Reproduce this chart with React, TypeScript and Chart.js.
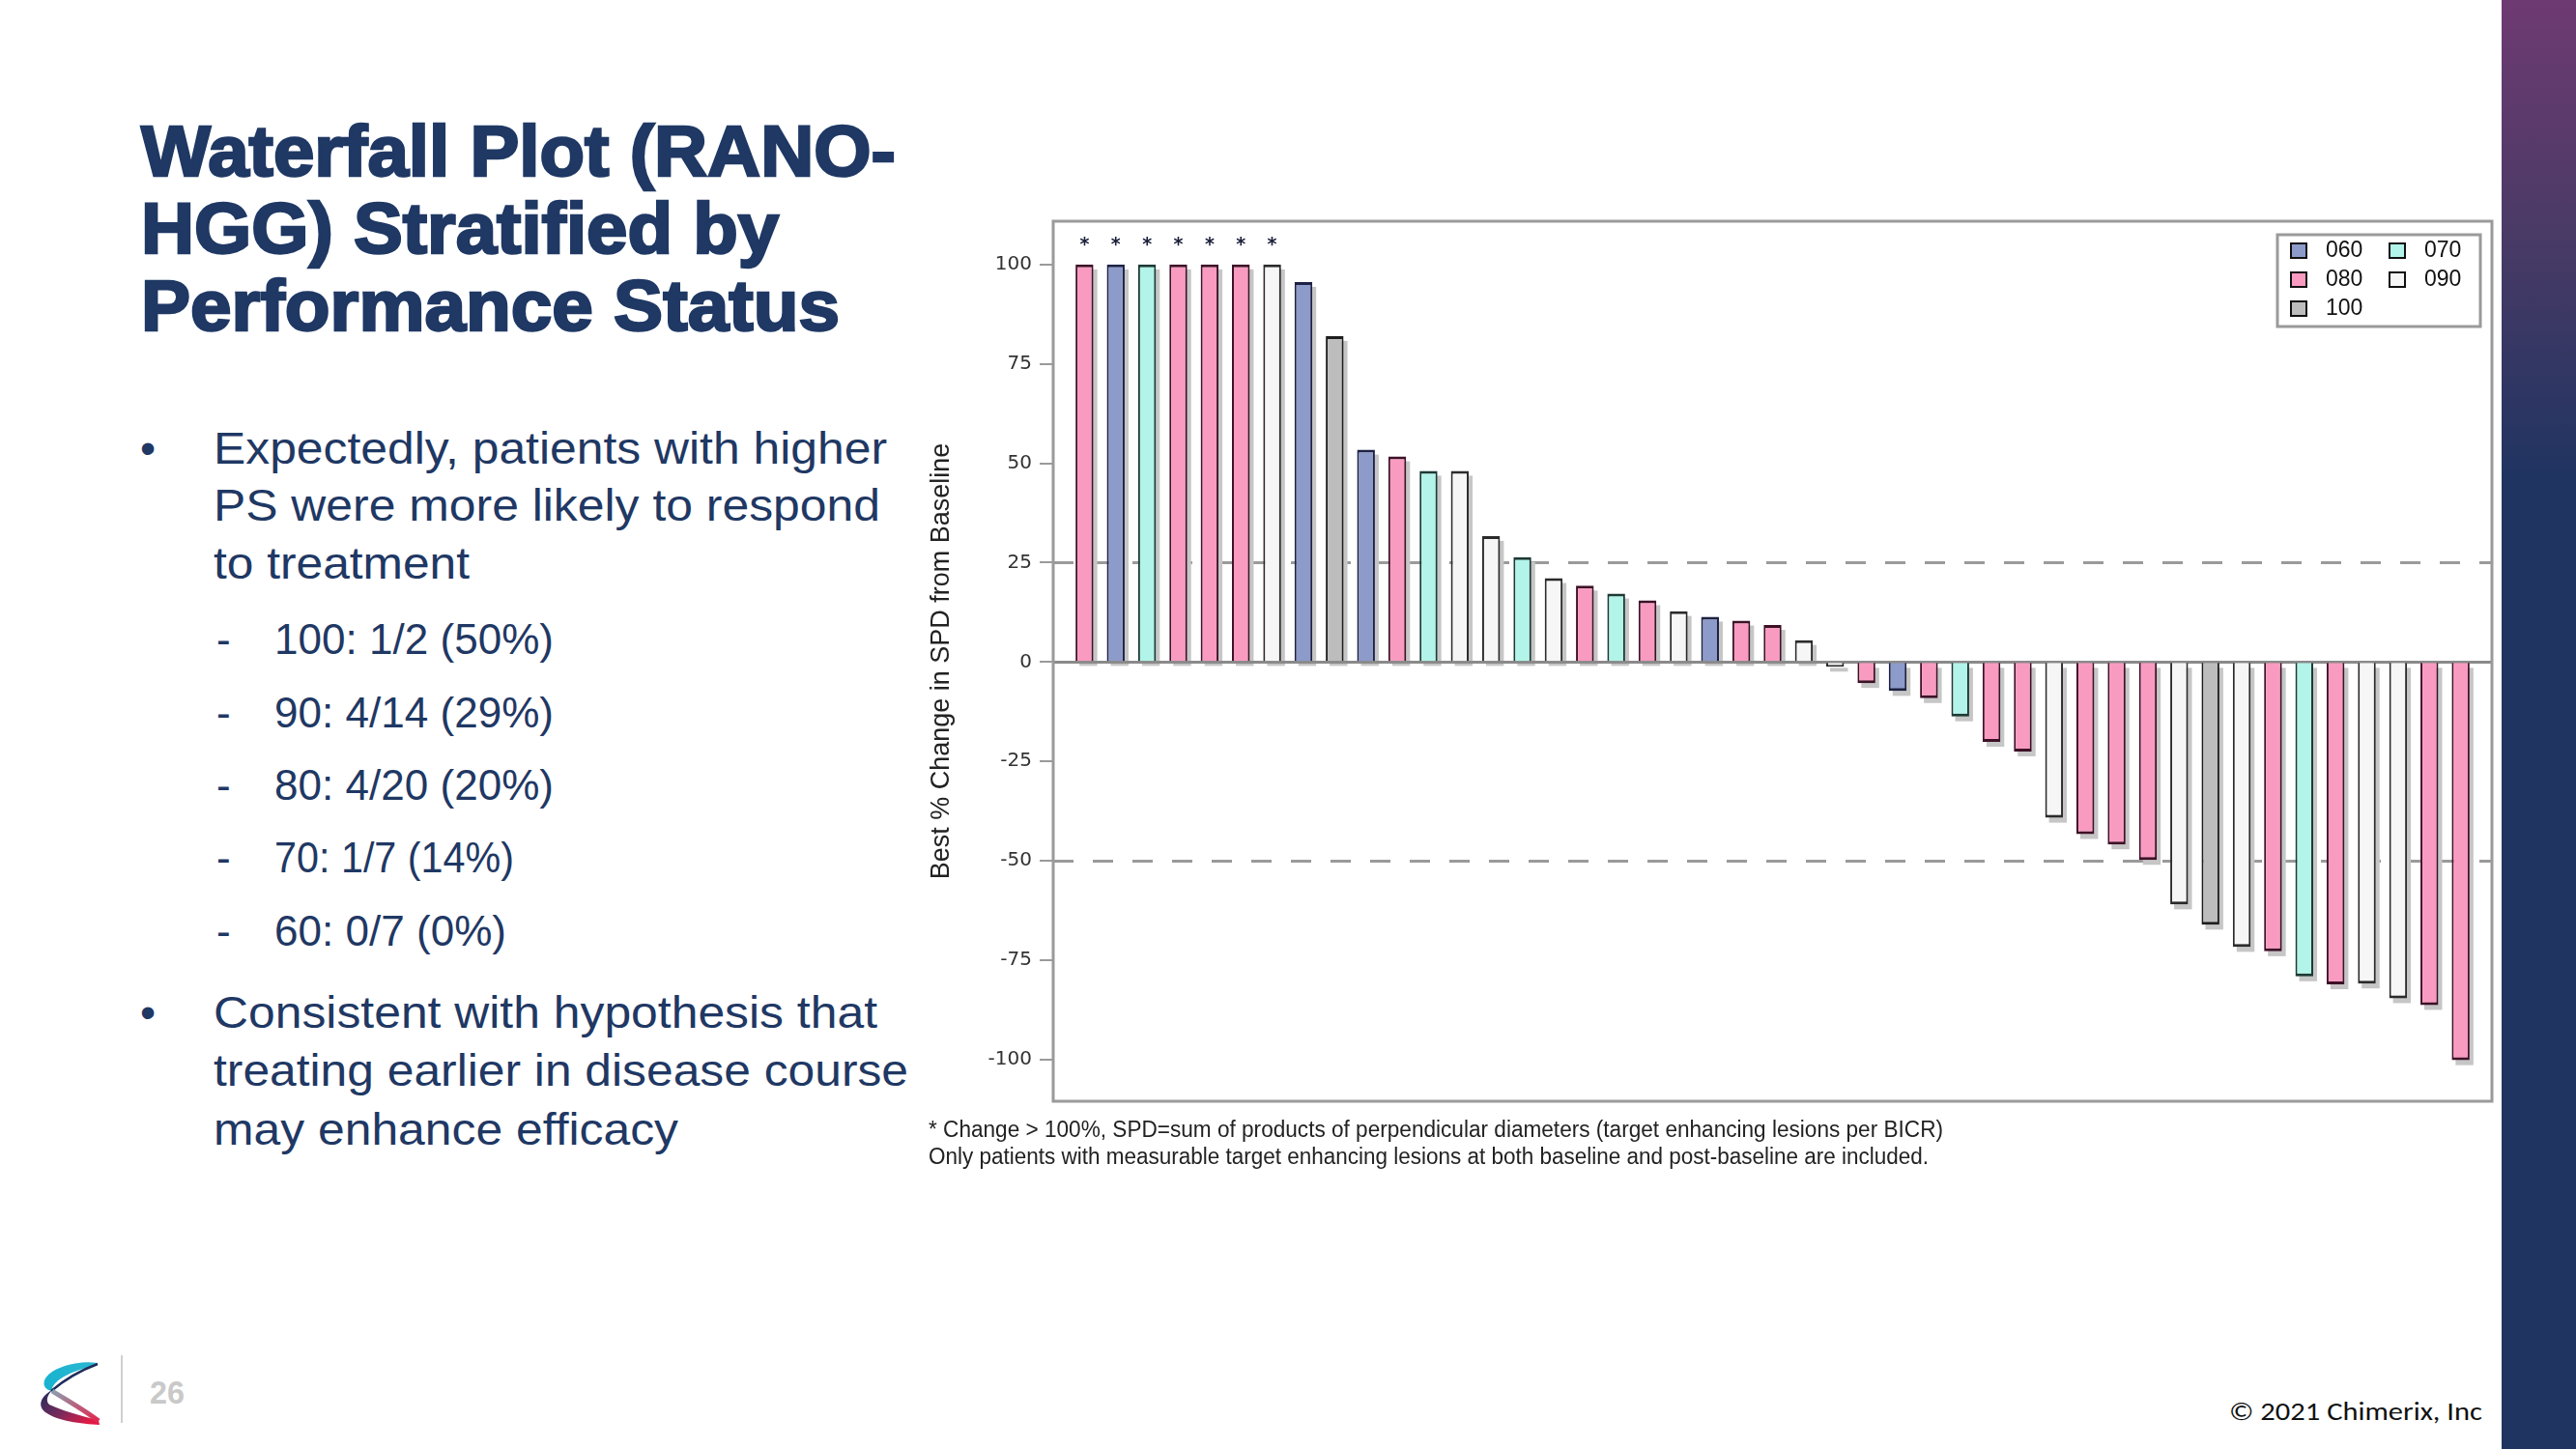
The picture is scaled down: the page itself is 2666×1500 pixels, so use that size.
import React, { useEffect, useLayoutEffect, useRef } from 'react';
import { Chart, registerables } from 'chart.js';

Chart.register(...registerables);

// ---------------- data ----------------
const psGroups = ['060', '070', '080', '090', '100'];
const psFill = ['#8D9BCA', '#B2F4E9', '#F99BC0', '#F6F6F6', '#BDBDBD'];
const psBorder = ['#1d2244', '#1c3a34', '#3e1127', '#2b2b2b', '#1e1e1e'];

const patientPS = [
  '080', '060', '070', '080', '080', '080', '090', '060', '100', '060',
  '080', '070', '090', '090', '070', '090', '080', '070', '080', '090',
  '060', '080', '080', '090', '090', '080', '060', '080', '070', '080',
  '080', '090', '080', '080', '080', '090', '100', '090', '080', '070',
  '080', '090', '090', '080', '080',
];

const bestPctChange = [
  100, 100, 100, 100, 100, 100, 100, 95.6, 82, 53.4,
  51.7, 48.1, 48.1, 31.7, 26.4, 21.1, 19.2, 17.2, 15.5, 12.8,
  11.4, 10.4, 9.3, 5.5, -1.2, -5.3, -7.3, -9.1, -13.7, -20.1,
  -22.5, -39.2, -43.3, -45.9, -49.8, -61.0, -66.1, -71.7, -72.8, -79.1,
  -81.1, -80.9, -84.6, -86.3, -100.2,
];

// patients (1-based order) whose change exceeds 100% (marked with *)
const over100Patients = [1, 2, 3, 4, 5, 6, 7];
const referenceLines = [25, -50];
const yTicks = [100, 75, 50, 25, 0, -25, -50, -75, -100];
const yTitle = 'Best % Change in SPD from Baseline';

const titleLines = ['Waterfall Plot (RANO-', 'HGG) Stratified by', 'Performance Status'];
const bullet1Lines = ['Expectedly, patients with higher', 'PS were more likely to respond', 'to treatment'];
const subItems = ['100: 1/2 (50%)', '90: 4/14 (29%)', '80: 4/20 (20%)', '70: 1/7 (14%)', '60: 0/7 (0%)'];
const bullet2Lines = ['Consistent with hypothesis that', 'treating earlier in disease course', 'may enhance efficacy'];
const footnotes = [
  '* Change > 100%, SPD=sum of products of perpendicular diameters (target enhancing lesions per BICR)',
  'Only patients with measurable target enhancing lesions at both baseline and post-baseline are included.',
];

const NAVY = '#1F3864';

// ---------------- chart plugin ----------------
const decorPlugin = {
  id: 'waterfallDecor',
  beforeDatasetsDraw(chart: any) {
    const { ctx, chartArea: a, scales } = chart;
    const y = scales.y;
    ctx.save();
    // dashed reference lines
    ctx.strokeStyle = '#9a9a9a';
    ctx.lineWidth = 3;
    ctx.setLineDash([21, 20]);
    referenceLines.forEach((v) => {
      const py = Math.round(y.getPixelForValue(v)) + 0.5;
      ctx.beginPath();
      ctx.moveTo(a.left, py);
      ctx.lineTo(a.right, py);
      ctx.stroke();
    });
    ctx.setLineDash([]);
    // bar shadows
    const meta = chart.getDatasetMeta(0);
    ctx.fillStyle = '#c6c6c6';
    meta.data.forEach((bar: any) => {
      const p = bar.getProps(['x', 'y', 'base', 'width'], true);
      const top = Math.min(p.y, p.base);
      const h = Math.abs(p.base - p.y);
      ctx.fillRect(p.x - p.width / 2 + 4, top + 5, p.width, h);
    });
    // zero line
    const z = Math.round(y.getPixelForValue(0)) + 0.5;
    ctx.strokeStyle = '#8a8a8a';
    ctx.lineWidth = 3;
    ctx.beginPath();
    ctx.moveTo(a.left, z);
    ctx.lineTo(a.right, z);
    ctx.stroke();
    ctx.restore();
  },
  afterDatasetsDraw(chart: any) {
    const { ctx } = chart;
    const meta = chart.getDatasetMeta(0);
    ctx.save();
    ctx.fillStyle = '#1a1f3a';
    ctx.font = 'bold 19px "DejaVu Sans"';
    ctx.textAlign = 'center';
    ctx.textBaseline = 'middle';
    over100Patients.forEach((n) => {
      const bar = meta.data[n - 1];
      if (!bar) return;
      ctx.fillText('*', bar.x, bar.y - 20);
    });
    ctx.restore();
  },
  afterDraw(chart: any) {
    const { ctx, chartArea: a } = chart;
    ctx.save();
    // plot frame
    ctx.strokeStyle = '#9a9a9a';
    ctx.lineWidth = 3;
    ctx.strokeRect(a.left, a.top, a.right - a.left, a.bottom - a.top);
    // legend box
    const bw = 210;
    const bh = 95;
    const bx = a.right - 12 - bw;
    const by = a.top + 14;
    ctx.fillStyle = '#ffffff';
    ctx.fillRect(bx, by, bw, bh);
    ctx.strokeStyle = '#9a9a9a';
    ctx.lineWidth = 3;
    ctx.strokeRect(bx, by, bw, bh);
    ctx.font = '23px "Liberation Sans"';
    ctx.textBaseline = 'middle';
    ctx.textAlign = 'left';
    psGroups.forEach((g, i) => {
      const col = i % 2;
      const row = Math.floor(i / 2);
      const sx = bx + 14 + col * 102;
      const sy = by + 9 + row * 30;
      ctx.fillStyle = psFill[i];
      ctx.fillRect(sx, sy, 16, 15);
      ctx.strokeStyle = '#111';
      ctx.lineWidth = 2;
      ctx.strokeRect(sx, sy, 16, 15);
      ctx.fillStyle = '#111';
      ctx.fillText(g, sx + 36, sy + 8);
    });
    ctx.restore();
  },
};

// ---------------- text helper ----------------
function FitLine(props: {
  text: string;
  left: number;
  baseline: number;
  size: number;
  width?: number;
  weight?: number;
  color?: string;
  family?: string;
  stroke?: string;
}) {
  const { text, left, baseline, size, width, weight = 400, color = NAVY, family = '"Liberation Sans", Arial, sans-serif', stroke } = props;
  const ref = useRef<HTMLDivElement>(null);
  useLayoutEffect(() => {
    const el = ref.current;
    if (!el) return;
    el.style.transform = 'none';
    const w = el.getBoundingClientRect().width;
    if (width && w > 0) el.style.transform = `scaleX(${width / w})`;
  }, [text, width]);
  return (
    <div
      ref={ref}
      style={{
        position: 'absolute',
        left,
        top: baseline - 0.8465 * size,
        fontSize: size,
        lineHeight: `${size}px`,
        fontFamily: family,
        fontWeight: weight,
        color,
        whiteSpace: 'nowrap',
        transformOrigin: 'left top',
        WebkitTextStroke: stroke,
      }}
    >
      {text}
    </div>
  );
}

function Logo() {
  return (
    <svg style={{ position: 'absolute', left: 38, top: 1404 }} width={72} height={76} viewBox="0 0 72 76">
      <defs>
        <linearGradient id="lgTop" x1="0" y1="0" x2="1" y2="0">
          <stop offset="0" stopColor="#19b3cf" />
          <stop offset="1" stopColor="#2bb8d3" />
        </linearGradient>
        <linearGradient id="lgBot" x1="0" y1="0" x2="1" y2="0.6">
          <stop offset="0" stopColor="#1f2d5c" />
          <stop offset="0.55" stopColor="#7a2a5c" />
          <stop offset="1" stopColor="#e01a45" />
        </linearGradient>
        <linearGradient id="lgDiag" x1="0" y1="0" x2="1" y2="1">
          <stop offset="0" stopColor="#8aa0b0" />
          <stop offset="1" stopColor="#e3254d" />
        </linearGradient>
      </defs>
      <path d="M63,7 C44,4 14,11 8,25 C6,31 10,35 16,36 C14,30 26,17 63,9 Z" fill="url(#lgTop)" />
      <path d="M63,8 Q36,18 15,36" stroke="#1f2d5c" strokeWidth={2.5} fill="none" />
      <path d="M16,35 C3,42 1,52 9,58 C21,67 46,70 65,71 L64,66 C46,62 26,56 13,50 C9,46 11,40 16,35 Z" fill="url(#lgBot)" />
      <path d="M16,36 C32,46 50,56 64,67" stroke="url(#lgDiag)" strokeWidth={5} fill="none" />
    </svg>
  );
}

export default function App() {
  const canvasRef = useRef<HTMLCanvasElement>(null);

  useEffect(() => {
    const canvas = canvasRef.current;
    if (!canvas) return;
    const groupIdx = patientPS.map((g) => psGroups.indexOf(g));
    const chart = new Chart(canvas, {
      type: 'bar',
      data: {
        datasets: [
          {
            data: bestPctChange.map((v, i) => ({ x: i + 1, y: v })),
            backgroundColor: groupIdx.map((k) => psFill[k]),
            borderColor: groupIdx.map((k) => psBorder[k]),
            borderWidth: { top: 3, bottom: 3, left: 2, right: 2 },
            barPercentage: 0.57,
            categoryPercentage: 1,
          } as any,
        ],
      },
      options: {
        animation: false,
        responsive: false,
        layout: { padding: { left: 0, top: 29, right: 21, bottom: 20 } },
        plugins: { legend: { display: false }, tooltip: { enabled: false } },
        scales: {
          x: {
            type: 'linear',
            min: 0,
            max: bestPctChange.length + 1,
            offset: false,
            grid: { offset: false },
            display: false,
          },
          y: {
            min: -110.5,
            max: 110.9,
            afterFit: (s: any) => {
              s.width = 150;
            },
            afterBuildTicks: (s: any) => {
              s.ticks = yTicks.map((v) => ({ value: v }));
            },
            grid: { drawOnChartArea: false, drawTicks: true, tickLength: 14, color: '#9a9a9a', lineWidth: 2 },
            border: { display: false },
            ticks: { padding: 8, color: '#333', font: { family: 'DejaVu Sans', size: 20 } },
            title: {
              display: true,
              text: yTitle,
              color: '#222',
              font: { family: 'Liberation Sans', size: 27 },
              padding: { top: 18, bottom: 0 },
            },
          },
        },
      } as any,
      plugins: [decorPlugin],
    });
    return () => chart.destroy();
  }, []);

  const titleWidths = [781, 660, 723];
  const b1Widths = [697, 690, 265];
  const b2Widths = [687, 719, 481];
  const subWidths = [289, 289, 289, 248, 240];
  const b1Base = [480, 539, 599];
  const subBase = [677, 753, 828, 903, 979];
  const b2Base = [1064, 1124, 1185];

  return (
    <div style={{ position: 'absolute', left: 0, top: 0, width: 2666, height: 1500, background: '#fff', overflow: 'hidden' }}>
      {/* right band */}
      <div
        style={{
          position: 'absolute',
          left: 2589,
          top: 0,
          width: 77,
          height: 1500,
          background: 'linear-gradient(to bottom, #6e3a72 0px, #4a3a66 240px, #1f3461 500px, #1f3461 1500px)',
        }}
      />
      {/* title */}
      {titleLines.map((t, i) => (
        <FitLine key={'t' + i} text={t} left={146} baseline={[183, 263, 343][i]} size={74} weight={700} width={titleWidths[i]} stroke={`2.5px ${NAVY}`} />
      ))}
      {/* bullet 1 */}
      <FitLine text="•" left={145} baseline={480} size={46} />
      {bullet1Lines.map((t, i) => (
        <FitLine key={'b1' + i} text={t} left={221} baseline={b1Base[i]} size={46} width={b1Widths[i]} />
      ))}
      {subItems.map((t, i) => (
        <React.Fragment key={'s' + i}>
          <FitLine text="-" left={224} baseline={subBase[i]} size={44} />
          <FitLine text={t} left={284} baseline={subBase[i]} size={44} width={subWidths[i]} />
        </React.Fragment>
      ))}
      <FitLine text="•" left={145} baseline={1064} size={46} />
      {bullet2Lines.map((t, i) => (
        <FitLine key={'b2' + i} text={t} left={221} baseline={b2Base[i]} size={46} width={b2Widths[i]} />
      ))}

      {/* chart */}
      <canvas
        ref={canvasRef}
        width={1660}
        height={960}
        style={{ position: 'absolute', left: 940, top: 200, width: 1660, height: 960 }}
      />

      {/* footnotes */}
      {footnotes.map((t, i) => (
        <FitLine key={'f' + i} text={t} left={961} baseline={[1177, 1205][i]} size={23} width={[1050, 1035][i]} color="#222" />
      ))}

      {/* footer */}
      <Logo />
      <div style={{ position: 'absolute', left: 125, top: 1403, width: 2, height: 70, background: '#cfcfcf' }} />
      <FitLine text="26" left={155} baseline={1453} size={33} weight={700} width={36} color="#C9C9C9" />
      <FitLine text="© 2021 Chimerix, Inc" left={2307} baseline={1470} size={27} width={262} color="#111" family='Carlito, "Open Sans", "Liberation Sans", sans-serif' />
    </div>
  );
}
